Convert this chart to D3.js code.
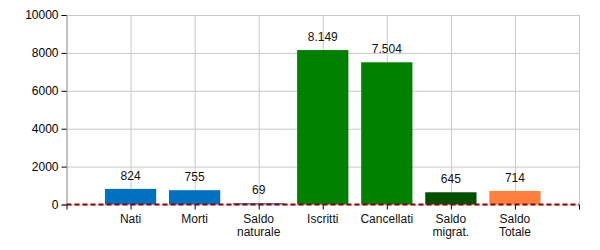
<!DOCTYPE html>
<html>
<head>
<meta charset="utf-8">
<script src="https://cdn.jsdelivr.net/npm/d3@7"></script>
<style>
  body { margin: 0; background: #fff; }
  svg { font-family: "Liberation Sans", Arial, sans-serif; }
  .grid line { stroke: #c8c8c8; }
  .grid path { display: none; }
</style>
</head>
<body>
<svg id="chart"></svg>
<script>
const categories = ["Nati", "Morti", "Saldo naturale", "Iscritti", "Cancellati", "Saldo migrat.", "Saldo Totale"];
const values = [824, 755, 69, 8149, 7504, 645, 714];
const barColors = ["#0070c0", "#0070c0", "#1f5fa8", "#008000", "#008000", "#005000", "#ff7f3f"];
const yTicks = [0, 2000, 4000, 6000, 8000, 10000];
const labelLines = [["Nati"], ["Morti"], ["Saldo", "naturale"], ["Iscritti"], ["Cancellati"], ["Saldo", "migrat."], ["Saldo", "Totale"]];

let svgWidth = 600;
let svgHeight = 250;
let margin = {top: 15, right: 21, bottom: 45.5, left: 66.5};
let chartWidth = svgWidth - margin.left - margin.right;
let chartHeight = svgHeight - margin.top - margin.bottom;

let xScale = d3.scaleLinear().domain([0, categories.length + 1]).range([0, chartWidth]);
let yScale = d3.scaleLinear().domain([0, 10000]).range([chartHeight, 0]);
let step = xScale(1) - xScale(0);
let barWidth = step * 0.8;

let svg = d3.select("#chart")
    .attr("width", svgWidth)
    .attr("height", svgHeight)
    .append("g")
    .attr("transform", "translate(" + margin.left + "," + margin.top + ")");

// grid
svg.append("g")
    .attr("class", "grid")
    .call(d3.axisLeft(yScale).tickValues(yTicks).tickSize(-chartWidth).tickFormat(""));

svg.append("g")
    .attr("class", "grid")
    .attr("transform", "translate(0," + chartHeight + ")")
    .call(d3.axisBottom(xScale).tickValues(d3.range(0, categories.length + 2)).tickSize(chartHeight).tickFormat(""))
    .attr("transform", "translate(0,0)");

// bars
svg.selectAll(".bar")
    .data(values)
    .enter().append("rect")
    .attr("class", "bar")
    .attr("x", (d, i) => xScale(i + 1) - barWidth / 2)
    .attr("width", barWidth)
    .attr("y", d => yScale(d))
    .attr("height", d => chartHeight - yScale(d))
    .attr("fill", (d, i) => barColors[i]);

// value labels
let fmt = d3.formatLocale({decimal: ",", thousands: ".", grouping: [3], currency: ["", "€"]}).format(",");
svg.selectAll(".vlabel")
    .data(values)
    .enter().append("text")
    .attr("class", "vlabel")
    .attr("x", (d, i) => xScale(i + 1))
    .attr("y", d => yScale(d) - 9)
    .attr("text-anchor", "middle")
    .attr("font-size", "12px")
    .attr("fill", "#111")
    .text(d => fmt(d));

// y axis
let yAxis = svg.append("g")
    .call(d3.axisLeft(yScale).tickValues(yTicks).tickSize(5).tickFormat(d3.format("d")));
yAxis.select(".domain").attr("stroke", "#a0a0a0");
yAxis.selectAll(".tick line").attr("stroke", "#000");
yAxis.selectAll("text").attr("font-size", "12px").attr("fill", "#000").attr("font-family", "Liberation Sans, Arial, sans-serif");

// x axis
let xAxis = svg.append("g")
    .attr("transform", "translate(0," + chartHeight + ")")
    .call(d3.axisBottom(xScale).tickValues(d3.range(0, categories.length + 2)).tickSize(5).tickFormat(""));
xAxis.select(".domain").remove();
xAxis.selectAll(".tick line").attr("stroke", "#000");

let xl = svg.selectAll(".xlabel")
    .data(labelLines)
    .enter().append("text")
    .attr("class", "xlabel")
    .attr("x", (d, i) => xScale(i + 1))
    .attr("y", chartHeight + 18)
    .attr("text-anchor", "middle")
    .attr("font-size", "12px")
    .attr("fill", "#111");
xl.selectAll("tspan")
    .data(d => d)
    .enter().append("tspan")
    .attr("x", function() { return d3.select(this.parentNode).attr("x"); })
    .attr("dy", (d, i) => i === 0 ? 0 : 13)
    .text(d => d);

// zero line
svg.append("line")
    .attr("x1", 0)
    .attr("x2", chartWidth)
    .attr("y1", yScale(0))
    .attr("y2", yScale(0))
    .attr("stroke", "#8b0000")
    .attr("stroke-width", 2)
    .attr("stroke-dasharray", "5,3");
</script>
</body>
</html>
